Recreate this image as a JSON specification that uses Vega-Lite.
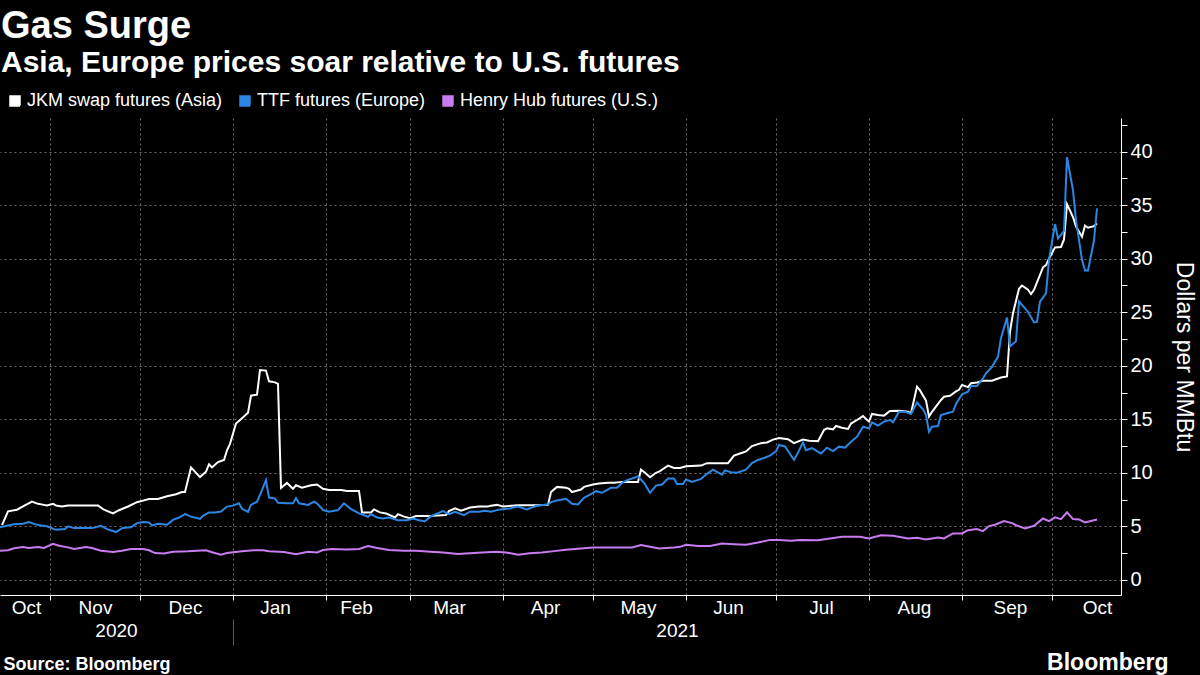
{
  "$schema": "https://vega.github.io/schema/vega-lite/v6.json",
  "width": 1121,
  "height": 477,
  "autosize": {"type": "none"},
  "padding": {"left": 0, "top": 118, "right": 79, "bottom": 80},
  "background": "#000000",
  "title": {
    "text": "Gas Surge",
    "subtitle": "Asia, Europe prices soar relative to U.S. futures",
    "anchor": "start",
    "frame": "group",
    "orient": "top",
    "font": "Liberation Sans",
    "fontSize": 38,
    "fontWeight": "bold",
    "color": "#ffffff",
    "subtitleFont": "Liberation Sans",
    "subtitleFontSize": 30,
    "subtitleFontWeight": "bold",
    "subtitleColor": "#ffffff",
    "subtitlePadding": 2,
    "offset": 14,
    "dx": 1
  },
  "config": {
    "view": {"stroke": null},
    "font": "Liberation Sans",
    "axis": {"labelFont": "Liberation Sans", "titleFont": "Liberation Sans"},
    "legend": {"labelFont": "Liberation Sans"}
  },
  "resolve": {"axis": {"x": "independent"}},
  "layer": [
    {
      "data": {"values": [
        {"date": "2020-10-16", "series": "JKM swap futures (Asia)", "value": 5.1},
        {"date": "2020-10-18", "series": "JKM swap futures (Asia)", "value": 6.4},
        {"date": "2020-10-21", "series": "JKM swap futures (Asia)", "value": 6.55},
        {"date": "2020-10-23", "series": "JKM swap futures (Asia)", "value": 6.85},
        {"date": "2020-10-26", "series": "JKM swap futures (Asia)", "value": 7.3},
        {"date": "2020-10-28", "series": "JKM swap futures (Asia)", "value": 7.1},
        {"date": "2020-10-30", "series": "JKM swap futures (Asia)", "value": 7.0},
        {"date": "2020-10-31", "series": "JKM swap futures (Asia)", "value": 6.95},
        {"date": "2020-11-02", "series": "JKM swap futures (Asia)", "value": 7.1},
        {"date": "2020-11-03", "series": "JKM swap futures (Asia)", "value": 6.95},
        {"date": "2020-11-05", "series": "JKM swap futures (Asia)", "value": 6.85},
        {"date": "2020-11-07", "series": "JKM swap futures (Asia)", "value": 6.95},
        {"date": "2020-11-17", "series": "JKM swap futures (Asia)", "value": 6.95},
        {"date": "2020-11-19", "series": "JKM swap futures (Asia)", "value": 6.55},
        {"date": "2020-11-22", "series": "JKM swap futures (Asia)", "value": 6.2},
        {"date": "2020-11-24", "series": "JKM swap futures (Asia)", "value": 6.5},
        {"date": "2020-11-27", "series": "JKM swap futures (Asia)", "value": 6.85},
        {"date": "2020-11-30", "series": "JKM swap futures (Asia)", "value": 7.25},
        {"date": "2020-12-02", "series": "JKM swap futures (Asia)", "value": 7.4},
        {"date": "2020-12-04", "series": "JKM swap futures (Asia)", "value": 7.55},
        {"date": "2020-12-07", "series": "JKM swap futures (Asia)", "value": 7.55},
        {"date": "2020-12-10", "series": "JKM swap futures (Asia)", "value": 7.8},
        {"date": "2020-12-13", "series": "JKM swap futures (Asia)", "value": 8.0},
        {"date": "2020-12-15", "series": "JKM swap futures (Asia)", "value": 8.2},
        {"date": "2020-12-16", "series": "JKM swap futures (Asia)", "value": 8.2},
        {"date": "2020-12-18", "series": "JKM swap futures (Asia)", "value": 10.5},
        {"date": "2020-12-21", "series": "JKM swap futures (Asia)", "value": 9.6},
        {"date": "2020-12-23", "series": "JKM swap futures (Asia)", "value": 10.1},
        {"date": "2020-12-24", "series": "JKM swap futures (Asia)", "value": 10.8},
        {"date": "2020-12-25", "series": "JKM swap futures (Asia)", "value": 10.5},
        {"date": "2020-12-27", "series": "JKM swap futures (Asia)", "value": 11.0},
        {"date": "2020-12-29", "series": "JKM swap futures (Asia)", "value": 11.2},
        {"date": "2020-12-30", "series": "JKM swap futures (Asia)", "value": 12.1},
        {"date": "2020-12-31", "series": "JKM swap futures (Asia)", "value": 12.7},
        {"date": "2021-01-02", "series": "JKM swap futures (Asia)", "value": 14.6},
        {"date": "2021-01-04", "series": "JKM swap futures (Asia)", "value": 15.1},
        {"date": "2021-01-06", "series": "JKM swap futures (Asia)", "value": 15.6},
        {"date": "2021-01-07", "series": "JKM swap futures (Asia)", "value": 17.2},
        {"date": "2021-01-09", "series": "JKM swap futures (Asia)", "value": 17.3},
        {"date": "2021-01-10", "series": "JKM swap futures (Asia)", "value": 19.6},
        {"date": "2021-01-12", "series": "JKM swap futures (Asia)", "value": 19.55},
        {"date": "2021-01-13", "series": "JKM swap futures (Asia)", "value": 18.55},
        {"date": "2021-01-15", "series": "JKM swap futures (Asia)", "value": 18.45},
        {"date": "2021-01-16", "series": "JKM swap futures (Asia)", "value": 18.3},
        {"date": "2021-01-17", "series": "JKM swap futures (Asia)", "value": 8.58},
        {"date": "2021-01-19", "series": "JKM swap futures (Asia)", "value": 9.05},
        {"date": "2021-01-21", "series": "JKM swap futures (Asia)", "value": 8.5},
        {"date": "2021-01-22", "series": "JKM swap futures (Asia)", "value": 8.83},
        {"date": "2021-01-24", "series": "JKM swap futures (Asia)", "value": 8.6},
        {"date": "2021-01-27", "series": "JKM swap futures (Asia)", "value": 8.83},
        {"date": "2021-01-29", "series": "JKM swap futures (Asia)", "value": 8.9},
        {"date": "2021-01-31", "series": "JKM swap futures (Asia)", "value": 8.5},
        {"date": "2021-02-02", "series": "JKM swap futures (Asia)", "value": 8.4},
        {"date": "2021-02-06", "series": "JKM swap futures (Asia)", "value": 8.4},
        {"date": "2021-02-08", "series": "JKM swap futures (Asia)", "value": 8.3},
        {"date": "2021-02-12", "series": "JKM swap futures (Asia)", "value": 8.3},
        {"date": "2021-02-13", "series": "JKM swap futures (Asia)", "value": 6.3},
        {"date": "2021-02-16", "series": "JKM swap futures (Asia)", "value": 6.3},
        {"date": "2021-02-17", "series": "JKM swap futures (Asia)", "value": 6.58},
        {"date": "2021-02-19", "series": "JKM swap futures (Asia)", "value": 6.3},
        {"date": "2021-02-21", "series": "JKM swap futures (Asia)", "value": 6.2},
        {"date": "2021-02-24", "series": "JKM swap futures (Asia)", "value": 5.82},
        {"date": "2021-02-25", "series": "JKM swap futures (Asia)", "value": 6.14},
        {"date": "2021-02-27", "series": "JKM swap futures (Asia)", "value": 5.9},
        {"date": "2021-03-01", "series": "JKM swap futures (Asia)", "value": 5.76},
        {"date": "2021-03-03", "series": "JKM swap futures (Asia)", "value": 5.95},
        {"date": "2021-03-07", "series": "JKM swap futures (Asia)", "value": 5.95},
        {"date": "2021-03-13", "series": "JKM swap futures (Asia)", "value": 6.05},
        {"date": "2021-03-14", "series": "JKM swap futures (Asia)", "value": 6.42},
        {"date": "2021-03-16", "series": "JKM swap futures (Asia)", "value": 6.68},
        {"date": "2021-03-18", "series": "JKM swap futures (Asia)", "value": 6.45},
        {"date": "2021-03-21", "series": "JKM swap futures (Asia)", "value": 6.75},
        {"date": "2021-03-24", "series": "JKM swap futures (Asia)", "value": 6.85},
        {"date": "2021-03-27", "series": "JKM swap futures (Asia)", "value": 6.85},
        {"date": "2021-03-28", "series": "JKM swap futures (Asia)", "value": 6.93},
        {"date": "2021-03-30", "series": "JKM swap futures (Asia)", "value": 7.0},
        {"date": "2021-04-01", "series": "JKM swap futures (Asia)", "value": 6.85},
        {"date": "2021-04-06", "series": "JKM swap futures (Asia)", "value": 6.96},
        {"date": "2021-04-12", "series": "JKM swap futures (Asia)", "value": 6.96},
        {"date": "2021-04-16", "series": "JKM swap futures (Asia)", "value": 7.0},
        {"date": "2021-04-17", "series": "JKM swap futures (Asia)", "value": 8.2},
        {"date": "2021-04-19", "series": "JKM swap futures (Asia)", "value": 8.68},
        {"date": "2021-04-22", "series": "JKM swap futures (Asia)", "value": 8.6},
        {"date": "2021-04-23", "series": "JKM swap futures (Asia)", "value": 8.5},
        {"date": "2021-04-24", "series": "JKM swap futures (Asia)", "value": 8.2},
        {"date": "2021-04-27", "series": "JKM swap futures (Asia)", "value": 8.44},
        {"date": "2021-04-28", "series": "JKM swap futures (Asia)", "value": 8.68},
        {"date": "2021-05-01", "series": "JKM swap futures (Asia)", "value": 8.9},
        {"date": "2021-05-03", "series": "JKM swap futures (Asia)", "value": 9.0},
        {"date": "2021-05-06", "series": "JKM swap futures (Asia)", "value": 9.06},
        {"date": "2021-05-08", "series": "JKM swap futures (Asia)", "value": 9.06},
        {"date": "2021-05-11", "series": "JKM swap futures (Asia)", "value": 9.15},
        {"date": "2021-05-16", "series": "JKM swap futures (Asia)", "value": 9.15},
        {"date": "2021-05-17", "series": "JKM swap futures (Asia)", "value": 10.3},
        {"date": "2021-05-19", "series": "JKM swap futures (Asia)", "value": 9.83},
        {"date": "2021-05-20", "series": "JKM swap futures (Asia)", "value": 9.58},
        {"date": "2021-05-22", "series": "JKM swap futures (Asia)", "value": 10.0},
        {"date": "2021-05-23", "series": "JKM swap futures (Asia)", "value": 10.1},
        {"date": "2021-05-26", "series": "JKM swap futures (Asia)", "value": 10.67},
        {"date": "2021-05-28", "series": "JKM swap futures (Asia)", "value": 10.45},
        {"date": "2021-05-30", "series": "JKM swap futures (Asia)", "value": 10.45},
        {"date": "2021-06-01", "series": "JKM swap futures (Asia)", "value": 10.6},
        {"date": "2021-06-06", "series": "JKM swap futures (Asia)", "value": 10.67},
        {"date": "2021-06-08", "series": "JKM swap futures (Asia)", "value": 10.9},
        {"date": "2021-06-15", "series": "JKM swap futures (Asia)", "value": 10.9},
        {"date": "2021-06-17", "series": "JKM swap futures (Asia)", "value": 11.6},
        {"date": "2021-06-19", "series": "JKM swap futures (Asia)", "value": 11.8},
        {"date": "2021-06-21", "series": "JKM swap futures (Asia)", "value": 12.0},
        {"date": "2021-06-23", "series": "JKM swap futures (Asia)", "value": 12.5},
        {"date": "2021-06-26", "series": "JKM swap futures (Asia)", "value": 12.77},
        {"date": "2021-06-28", "series": "JKM swap futures (Asia)", "value": 12.83},
        {"date": "2021-06-30", "series": "JKM swap futures (Asia)", "value": 13.1},
        {"date": "2021-07-02", "series": "JKM swap futures (Asia)", "value": 13.24},
        {"date": "2021-07-05", "series": "JKM swap futures (Asia)", "value": 13.14},
        {"date": "2021-07-07", "series": "JKM swap futures (Asia)", "value": 12.77},
        {"date": "2021-07-10", "series": "JKM swap futures (Asia)", "value": 13.1},
        {"date": "2021-07-12", "series": "JKM swap futures (Asia)", "value": 13.0},
        {"date": "2021-07-15", "series": "JKM swap futures (Asia)", "value": 12.96},
        {"date": "2021-07-17", "series": "JKM swap futures (Asia)", "value": 14.0},
        {"date": "2021-07-18", "series": "JKM swap futures (Asia)", "value": 14.15},
        {"date": "2021-07-20", "series": "JKM swap futures (Asia)", "value": 14.06},
        {"date": "2021-07-21", "series": "JKM swap futures (Asia)", "value": 14.37},
        {"date": "2021-07-23", "series": "JKM swap futures (Asia)", "value": 14.2},
        {"date": "2021-07-25", "series": "JKM swap futures (Asia)", "value": 14.1},
        {"date": "2021-07-26", "series": "JKM swap futures (Asia)", "value": 14.6},
        {"date": "2021-07-28", "series": "JKM swap futures (Asia)", "value": 14.93},
        {"date": "2021-07-30", "series": "JKM swap futures (Asia)", "value": 15.3},
        {"date": "2021-08-01", "series": "JKM swap futures (Asia)", "value": 14.78},
        {"date": "2021-08-02", "series": "JKM swap futures (Asia)", "value": 15.5},
        {"date": "2021-08-04", "series": "JKM swap futures (Asia)", "value": 15.4},
        {"date": "2021-08-06", "series": "JKM swap futures (Asia)", "value": 15.34},
        {"date": "2021-08-08", "series": "JKM swap futures (Asia)", "value": 15.78},
        {"date": "2021-08-11", "series": "JKM swap futures (Asia)", "value": 15.8},
        {"date": "2021-08-14", "series": "JKM swap futures (Asia)", "value": 15.7},
        {"date": "2021-08-15", "series": "JKM swap futures (Asia)", "value": 15.56},
        {"date": "2021-08-17", "series": "JKM swap futures (Asia)", "value": 18.05},
        {"date": "2021-08-18", "series": "JKM swap futures (Asia)", "value": 17.7},
        {"date": "2021-08-20", "series": "JKM swap futures (Asia)", "value": 16.75},
        {"date": "2021-08-21", "series": "JKM swap futures (Asia)", "value": 15.25},
        {"date": "2021-08-22", "series": "JKM swap futures (Asia)", "value": 15.7},
        {"date": "2021-08-25", "series": "JKM swap futures (Asia)", "value": 16.8},
        {"date": "2021-08-26", "series": "JKM swap futures (Asia)", "value": 17.1},
        {"date": "2021-08-28", "series": "JKM swap futures (Asia)", "value": 17.2},
        {"date": "2021-08-30", "series": "JKM swap futures (Asia)", "value": 17.6},
        {"date": "2021-08-31", "series": "JKM swap futures (Asia)", "value": 17.75},
        {"date": "2021-09-01", "series": "JKM swap futures (Asia)", "value": 18.2},
        {"date": "2021-09-03", "series": "JKM swap futures (Asia)", "value": 18.0},
        {"date": "2021-09-04", "series": "JKM swap futures (Asia)", "value": 18.36},
        {"date": "2021-09-06", "series": "JKM swap futures (Asia)", "value": 18.43},
        {"date": "2021-09-08", "series": "JKM swap futures (Asia)", "value": 18.6},
        {"date": "2021-09-11", "series": "JKM swap futures (Asia)", "value": 18.6},
        {"date": "2021-09-14", "series": "JKM swap futures (Asia)", "value": 18.9},
        {"date": "2021-09-16", "series": "JKM swap futures (Asia)", "value": 19.0},
        {"date": "2021-09-17", "series": "JKM swap futures (Asia)", "value": 23.2},
        {"date": "2021-09-18", "series": "JKM swap futures (Asia)", "value": 24.9},
        {"date": "2021-09-20", "series": "JKM swap futures (Asia)", "value": 27.2},
        {"date": "2021-09-21", "series": "JKM swap futures (Asia)", "value": 27.5},
        {"date": "2021-09-23", "series": "JKM swap futures (Asia)", "value": 27.1},
        {"date": "2021-09-24", "series": "JKM swap futures (Asia)", "value": 26.7},
        {"date": "2021-09-25", "series": "JKM swap futures (Asia)", "value": 27.1},
        {"date": "2021-09-28", "series": "JKM swap futures (Asia)", "value": 29.2},
        {"date": "2021-09-29", "series": "JKM swap futures (Asia)", "value": 29.4},
        {"date": "2021-09-30", "series": "JKM swap futures (Asia)", "value": 30.0},
        {"date": "2021-10-02", "series": "JKM swap futures (Asia)", "value": 31.06},
        {"date": "2021-10-04", "series": "JKM swap futures (Asia)", "value": 31.1},
        {"date": "2021-10-05", "series": "JKM swap futures (Asia)", "value": 31.8},
        {"date": "2021-10-06", "series": "JKM swap futures (Asia)", "value": 35.1},
        {"date": "2021-10-08", "series": "JKM swap futures (Asia)", "value": 33.9},
        {"date": "2021-10-09", "series": "JKM swap futures (Asia)", "value": 33.0},
        {"date": "2021-10-11", "series": "JKM swap futures (Asia)", "value": 32.06},
        {"date": "2021-10-12", "series": "JKM swap futures (Asia)", "value": 33.1},
        {"date": "2021-10-13", "series": "JKM swap futures (Asia)", "value": 32.9},
        {"date": "2021-10-15", "series": "JKM swap futures (Asia)", "value": 33.05},
        {"date": "2021-10-16", "series": "JKM swap futures (Asia)", "value": 33.3},

        {"date": "2020-10-15", "series": "TTF futures (Europe)", "value": 4.9},
        {"date": "2020-10-18", "series": "TTF futures (Europe)", "value": 5.08},
        {"date": "2020-10-20", "series": "TTF futures (Europe)", "value": 5.2},
        {"date": "2020-10-23", "series": "TTF futures (Europe)", "value": 5.23},
        {"date": "2020-10-25", "series": "TTF futures (Europe)", "value": 5.39},
        {"date": "2020-10-27", "series": "TTF futures (Europe)", "value": 5.2},
        {"date": "2020-10-29", "series": "TTF futures (Europe)", "value": 5.08},
        {"date": "2020-10-31", "series": "TTF futures (Europe)", "value": 5.0},
        {"date": "2020-11-03", "series": "TTF futures (Europe)", "value": 4.67},
        {"date": "2020-11-06", "series": "TTF futures (Europe)", "value": 4.74},
        {"date": "2020-11-07", "series": "TTF futures (Europe)", "value": 5.0},
        {"date": "2020-11-09", "series": "TTF futures (Europe)", "value": 4.83},
        {"date": "2020-11-12", "series": "TTF futures (Europe)", "value": 4.83},
        {"date": "2020-11-15", "series": "TTF futures (Europe)", "value": 4.83},
        {"date": "2020-11-18", "series": "TTF futures (Europe)", "value": 5.05},
        {"date": "2020-11-20", "series": "TTF futures (Europe)", "value": 4.74},
        {"date": "2020-11-23", "series": "TTF futures (Europe)", "value": 4.46},
        {"date": "2020-11-25", "series": "TTF futures (Europe)", "value": 4.83},
        {"date": "2020-11-28", "series": "TTF futures (Europe)", "value": 4.9},
        {"date": "2020-11-30", "series": "TTF futures (Europe)", "value": 5.3},
        {"date": "2020-12-02", "series": "TTF futures (Europe)", "value": 5.39},
        {"date": "2020-12-04", "series": "TTF futures (Europe)", "value": 5.36},
        {"date": "2020-12-05", "series": "TTF futures (Europe)", "value": 5.08},
        {"date": "2020-12-07", "series": "TTF futures (Europe)", "value": 5.23},
        {"date": "2020-12-10", "series": "TTF futures (Europe)", "value": 5.14},
        {"date": "2020-12-12", "series": "TTF futures (Europe)", "value": 5.6},
        {"date": "2020-12-14", "series": "TTF futures (Europe)", "value": 5.82},
        {"date": "2020-12-16", "series": "TTF futures (Europe)", "value": 6.13},
        {"date": "2020-12-18", "series": "TTF futures (Europe)", "value": 5.9},
        {"date": "2020-12-21", "series": "TTF futures (Europe)", "value": 5.7},
        {"date": "2020-12-22", "series": "TTF futures (Europe)", "value": 5.98},
        {"date": "2020-12-24", "series": "TTF futures (Europe)", "value": 6.3},
        {"date": "2020-12-26", "series": "TTF futures (Europe)", "value": 6.3},
        {"date": "2020-12-28", "series": "TTF futures (Europe)", "value": 6.38},
        {"date": "2020-12-30", "series": "TTF futures (Europe)", "value": 6.84},
        {"date": "2021-01-01", "series": "TTF futures (Europe)", "value": 6.93},
        {"date": "2021-01-03", "series": "TTF futures (Europe)", "value": 7.15},
        {"date": "2021-01-04", "series": "TTF futures (Europe)", "value": 6.63},
        {"date": "2021-01-06", "series": "TTF futures (Europe)", "value": 6.35},
        {"date": "2021-01-07", "series": "TTF futures (Europe)", "value": 7.0},
        {"date": "2021-01-09", "series": "TTF futures (Europe)", "value": 7.3},
        {"date": "2021-01-10", "series": "TTF futures (Europe)", "value": 7.93},
        {"date": "2021-01-12", "series": "TTF futures (Europe)", "value": 9.32},
        {"date": "2021-01-13", "series": "TTF futures (Europe)", "value": 7.68},
        {"date": "2021-01-15", "series": "TTF futures (Europe)", "value": 7.6},
        {"date": "2021-01-16", "series": "TTF futures (Europe)", "value": 7.2},
        {"date": "2021-01-19", "series": "TTF futures (Europe)", "value": 7.15},
        {"date": "2021-01-21", "series": "TTF futures (Europe)", "value": 7.15},
        {"date": "2021-01-22", "series": "TTF futures (Europe)", "value": 7.63},
        {"date": "2021-01-23", "series": "TTF futures (Europe)", "value": 7.15},
        {"date": "2021-01-26", "series": "TTF futures (Europe)", "value": 7.0},
        {"date": "2021-01-28", "series": "TTF futures (Europe)", "value": 7.3},
        {"date": "2021-01-29", "series": "TTF futures (Europe)", "value": 7.15},
        {"date": "2021-01-31", "series": "TTF futures (Europe)", "value": 6.52},
        {"date": "2021-02-02", "series": "TTF futures (Europe)", "value": 6.36},
        {"date": "2021-02-05", "series": "TTF futures (Europe)", "value": 6.52},
        {"date": "2021-02-07", "series": "TTF futures (Europe)", "value": 7.15},
        {"date": "2021-02-09", "series": "TTF futures (Europe)", "value": 6.68},
        {"date": "2021-02-12", "series": "TTF futures (Europe)", "value": 6.2},
        {"date": "2021-02-15", "series": "TTF futures (Europe)", "value": 5.89},
        {"date": "2021-02-16", "series": "TTF futures (Europe)", "value": 6.14},
        {"date": "2021-02-18", "series": "TTF futures (Europe)", "value": 5.82},
        {"date": "2021-02-20", "series": "TTF futures (Europe)", "value": 5.73},
        {"date": "2021-02-22", "series": "TTF futures (Europe)", "value": 5.82},
        {"date": "2021-02-25", "series": "TTF futures (Europe)", "value": 5.57},
        {"date": "2021-02-28", "series": "TTF futures (Europe)", "value": 5.57},
        {"date": "2021-03-02", "series": "TTF futures (Europe)", "value": 5.73},
        {"date": "2021-03-04", "series": "TTF futures (Europe)", "value": 5.57},
        {"date": "2021-03-06", "series": "TTF futures (Europe)", "value": 5.47},
        {"date": "2021-03-08", "series": "TTF futures (Europe)", "value": 5.95},
        {"date": "2021-03-12", "series": "TTF futures (Europe)", "value": 6.42},
        {"date": "2021-03-14", "series": "TTF futures (Europe)", "value": 6.14},
        {"date": "2021-03-16", "series": "TTF futures (Europe)", "value": 6.36},
        {"date": "2021-03-19", "series": "TTF futures (Europe)", "value": 6.04},
        {"date": "2021-03-21", "series": "TTF futures (Europe)", "value": 6.36},
        {"date": "2021-03-24", "series": "TTF futures (Europe)", "value": 6.36},
        {"date": "2021-03-26", "series": "TTF futures (Europe)", "value": 6.46},
        {"date": "2021-03-28", "series": "TTF futures (Europe)", "value": 6.36},
        {"date": "2021-03-31", "series": "TTF futures (Europe)", "value": 6.58},
        {"date": "2021-04-03", "series": "TTF futures (Europe)", "value": 6.65},
        {"date": "2021-04-06", "series": "TTF futures (Europe)", "value": 6.84},
        {"date": "2021-04-09", "series": "TTF futures (Europe)", "value": 6.58},
        {"date": "2021-04-12", "series": "TTF futures (Europe)", "value": 6.9},
        {"date": "2021-04-16", "series": "TTF futures (Europe)", "value": 7.05},
        {"date": "2021-04-17", "series": "TTF futures (Europe)", "value": 7.26},
        {"date": "2021-04-19", "series": "TTF futures (Europe)", "value": 7.42},
        {"date": "2021-04-22", "series": "TTF futures (Europe)", "value": 7.57},
        {"date": "2021-04-24", "series": "TTF futures (Europe)", "value": 7.1},
        {"date": "2021-04-26", "series": "TTF futures (Europe)", "value": 7.04},
        {"date": "2021-04-28", "series": "TTF futures (Europe)", "value": 7.66},
        {"date": "2021-04-30", "series": "TTF futures (Europe)", "value": 7.97},
        {"date": "2021-05-02", "series": "TTF futures (Europe)", "value": 8.28},
        {"date": "2021-05-04", "series": "TTF futures (Europe)", "value": 8.13},
        {"date": "2021-05-07", "series": "TTF futures (Europe)", "value": 8.6},
        {"date": "2021-05-09", "series": "TTF futures (Europe)", "value": 8.6},
        {"date": "2021-05-11", "series": "TTF futures (Europe)", "value": 9.12},
        {"date": "2021-05-13", "series": "TTF futures (Europe)", "value": 9.37},
        {"date": "2021-05-14", "series": "TTF futures (Europe)", "value": 9.46},
        {"date": "2021-05-16", "series": "TTF futures (Europe)", "value": 9.67},
        {"date": "2021-05-18", "series": "TTF futures (Europe)", "value": 9.06},
        {"date": "2021-05-20", "series": "TTF futures (Europe)", "value": 8.13},
        {"date": "2021-05-22", "series": "TTF futures (Europe)", "value": 8.8},
        {"date": "2021-05-24", "series": "TTF futures (Europe)", "value": 8.9},
        {"date": "2021-05-26", "series": "TTF futures (Europe)", "value": 9.46},
        {"date": "2021-05-28", "series": "TTF futures (Europe)", "value": 9.46},
        {"date": "2021-05-29", "series": "TTF futures (Europe)", "value": 8.96},
        {"date": "2021-05-31", "series": "TTF futures (Europe)", "value": 8.96},
        {"date": "2021-06-01", "series": "TTF futures (Europe)", "value": 9.37},
        {"date": "2021-06-03", "series": "TTF futures (Europe)", "value": 9.15},
        {"date": "2021-06-06", "series": "TTF futures (Europe)", "value": 9.43},
        {"date": "2021-06-08", "series": "TTF futures (Europe)", "value": 9.9},
        {"date": "2021-06-10", "series": "TTF futures (Europe)", "value": 10.3},
        {"date": "2021-06-13", "series": "TTF futures (Europe)", "value": 9.83},
        {"date": "2021-06-14", "series": "TTF futures (Europe)", "value": 10.23},
        {"date": "2021-06-16", "series": "TTF futures (Europe)", "value": 10.05},
        {"date": "2021-06-18", "series": "TTF futures (Europe)", "value": 10.0},
        {"date": "2021-06-21", "series": "TTF futures (Europe)", "value": 10.3},
        {"date": "2021-06-23", "series": "TTF futures (Europe)", "value": 10.9},
        {"date": "2021-06-25", "series": "TTF futures (Europe)", "value": 11.2},
        {"date": "2021-06-27", "series": "TTF futures (Europe)", "value": 11.38},
        {"date": "2021-06-29", "series": "TTF futures (Europe)", "value": 11.6},
        {"date": "2021-07-01", "series": "TTF futures (Europe)", "value": 12.0},
        {"date": "2021-07-02", "series": "TTF futures (Europe)", "value": 12.6},
        {"date": "2021-07-04", "series": "TTF futures (Europe)", "value": 12.46},
        {"date": "2021-07-07", "series": "TTF futures (Europe)", "value": 11.2},
        {"date": "2021-07-08", "series": "TTF futures (Europe)", "value": 11.7},
        {"date": "2021-07-10", "series": "TTF futures (Europe)", "value": 12.83},
        {"date": "2021-07-11", "series": "TTF futures (Europe)", "value": 12.1},
        {"date": "2021-07-13", "series": "TTF futures (Europe)", "value": 12.3},
        {"date": "2021-07-16", "series": "TTF futures (Europe)", "value": 11.8},
        {"date": "2021-07-18", "series": "TTF futures (Europe)", "value": 12.35},
        {"date": "2021-07-20", "series": "TTF futures (Europe)", "value": 12.03},
        {"date": "2021-07-22", "series": "TTF futures (Europe)", "value": 12.44},
        {"date": "2021-07-24", "series": "TTF futures (Europe)", "value": 12.35},
        {"date": "2021-07-26", "series": "TTF futures (Europe)", "value": 12.9},
        {"date": "2021-07-28", "series": "TTF futures (Europe)", "value": 13.37},
        {"date": "2021-07-30", "series": "TTF futures (Europe)", "value": 14.3},
        {"date": "2021-08-01", "series": "TTF futures (Europe)", "value": 14.15},
        {"date": "2021-08-02", "series": "TTF futures (Europe)", "value": 14.7},
        {"date": "2021-08-04", "series": "TTF futures (Europe)", "value": 14.4},
        {"date": "2021-08-06", "series": "TTF futures (Europe)", "value": 14.78},
        {"date": "2021-08-08", "series": "TTF futures (Europe)", "value": 14.93},
        {"date": "2021-08-09", "series": "TTF futures (Europe)", "value": 14.72},
        {"date": "2021-08-11", "series": "TTF futures (Europe)", "value": 15.7},
        {"date": "2021-08-13", "series": "TTF futures (Europe)", "value": 15.7},
        {"date": "2021-08-15", "series": "TTF futures (Europe)", "value": 15.5},
        {"date": "2021-08-17", "series": "TTF futures (Europe)", "value": 16.56},
        {"date": "2021-08-19", "series": "TTF futures (Europe)", "value": 15.93},
        {"date": "2021-08-20", "series": "TTF futures (Europe)", "value": 15.4},
        {"date": "2021-08-21", "series": "TTF futures (Europe)", "value": 13.84},
        {"date": "2021-08-22", "series": "TTF futures (Europe)", "value": 14.3},
        {"date": "2021-08-24", "series": "TTF futures (Europe)", "value": 14.37},
        {"date": "2021-08-25", "series": "TTF futures (Europe)", "value": 15.4},
        {"date": "2021-08-27", "series": "TTF futures (Europe)", "value": 15.56},
        {"date": "2021-08-29", "series": "TTF futures (Europe)", "value": 15.7},
        {"date": "2021-08-30", "series": "TTF futures (Europe)", "value": 16.43},
        {"date": "2021-09-01", "series": "TTF futures (Europe)", "value": 17.33},
        {"date": "2021-09-03", "series": "TTF futures (Europe)", "value": 17.58},
        {"date": "2021-09-04", "series": "TTF futures (Europe)", "value": 18.1},
        {"date": "2021-09-06", "series": "TTF futures (Europe)", "value": 18.1},
        {"date": "2021-09-08", "series": "TTF futures (Europe)", "value": 18.83},
        {"date": "2021-09-09", "series": "TTF futures (Europe)", "value": 19.3},
        {"date": "2021-09-11", "series": "TTF futures (Europe)", "value": 19.9},
        {"date": "2021-09-13", "series": "TTF futures (Europe)", "value": 20.86},
        {"date": "2021-09-14", "series": "TTF futures (Europe)", "value": 22.6},
        {"date": "2021-09-16", "series": "TTF futures (Europe)", "value": 24.5},
        {"date": "2021-09-17", "series": "TTF futures (Europe)", "value": 21.8},
        {"date": "2021-09-19", "series": "TTF futures (Europe)", "value": 22.3},
        {"date": "2021-09-20", "series": "TTF futures (Europe)", "value": 26.0},
        {"date": "2021-09-23", "series": "TTF futures (Europe)", "value": 25.05},
        {"date": "2021-09-25", "series": "TTF futures (Europe)", "value": 24.05},
        {"date": "2021-09-26", "series": "TTF futures (Europe)", "value": 24.1},
        {"date": "2021-09-27", "series": "TTF futures (Europe)", "value": 26.0},
        {"date": "2021-09-29", "series": "TTF futures (Europe)", "value": 26.76},
        {"date": "2021-09-30", "series": "TTF futures (Europe)", "value": 29.9},
        {"date": "2021-10-02", "series": "TTF futures (Europe)", "value": 33.24},
        {"date": "2021-10-03", "series": "TTF futures (Europe)", "value": 31.9},
        {"date": "2021-10-05", "series": "TTF futures (Europe)", "value": 32.6},
        {"date": "2021-10-06", "series": "TTF futures (Europe)", "value": 39.5},
        {"date": "2021-10-08", "series": "TTF futures (Europe)", "value": 36.4},
        {"date": "2021-10-09", "series": "TTF futures (Europe)", "value": 33.6},
        {"date": "2021-10-11", "series": "TTF futures (Europe)", "value": 29.9},
        {"date": "2021-10-12", "series": "TTF futures (Europe)", "value": 28.9},
        {"date": "2021-10-13", "series": "TTF futures (Europe)", "value": 28.9},
        {"date": "2021-10-15", "series": "TTF futures (Europe)", "value": 31.7},
        {"date": "2021-10-16", "series": "TTF futures (Europe)", "value": 34.7},

        {"date": "2020-10-15", "series": "Henry Hub futures (U.S.)", "value": 2.72},
        {"date": "2020-10-18", "series": "Henry Hub futures (U.S.)", "value": 2.76},
        {"date": "2020-10-20", "series": "Henry Hub futures (U.S.)", "value": 2.94},
        {"date": "2020-10-23", "series": "Henry Hub futures (U.S.)", "value": 3.07},
        {"date": "2020-10-25", "series": "Henry Hub futures (U.S.)", "value": 2.97},
        {"date": "2020-10-28", "series": "Henry Hub futures (U.S.)", "value": 3.07},
        {"date": "2020-10-30", "series": "Henry Hub futures (U.S.)", "value": 2.97},
        {"date": "2020-11-02", "series": "Henry Hub futures (U.S.)", "value": 3.37},
        {"date": "2020-11-04", "series": "Henry Hub futures (U.S.)", "value": 3.19},
        {"date": "2020-11-07", "series": "Henry Hub futures (U.S.)", "value": 3.03},
        {"date": "2020-11-09", "series": "Henry Hub futures (U.S.)", "value": 2.88},
        {"date": "2020-11-13", "series": "Henry Hub futures (U.S.)", "value": 3.07},
        {"date": "2020-11-15", "series": "Henry Hub futures (U.S.)", "value": 2.97},
        {"date": "2020-11-18", "series": "Henry Hub futures (U.S.)", "value": 2.72},
        {"date": "2020-11-22", "series": "Henry Hub futures (U.S.)", "value": 2.6},
        {"date": "2020-11-25", "series": "Henry Hub futures (U.S.)", "value": 2.72},
        {"date": "2020-11-28", "series": "Henry Hub futures (U.S.)", "value": 2.88},
        {"date": "2020-12-02", "series": "Henry Hub futures (U.S.)", "value": 2.88},
        {"date": "2020-12-04", "series": "Henry Hub futures (U.S.)", "value": 2.76},
        {"date": "2020-12-06", "series": "Henry Hub futures (U.S.)", "value": 2.5},
        {"date": "2020-12-09", "series": "Henry Hub futures (U.S.)", "value": 2.45},
        {"date": "2020-12-12", "series": "Henry Hub futures (U.S.)", "value": 2.63},
        {"date": "2020-12-17", "series": "Henry Hub futures (U.S.)", "value": 2.66},
        {"date": "2020-12-23", "series": "Henry Hub futures (U.S.)", "value": 2.76},
        {"date": "2020-12-25", "series": "Henry Hub futures (U.S.)", "value": 2.57},
        {"date": "2020-12-28", "series": "Henry Hub futures (U.S.)", "value": 2.35},
        {"date": "2020-12-30", "series": "Henry Hub futures (U.S.)", "value": 2.5},
        {"date": "2021-01-01", "series": "Henry Hub futures (U.S.)", "value": 2.57},
        {"date": "2021-01-04", "series": "Henry Hub futures (U.S.)", "value": 2.66},
        {"date": "2021-01-08", "series": "Henry Hub futures (U.S.)", "value": 2.76},
        {"date": "2021-01-11", "series": "Henry Hub futures (U.S.)", "value": 2.76},
        {"date": "2021-01-13", "series": "Henry Hub futures (U.S.)", "value": 2.66},
        {"date": "2021-01-18", "series": "Henry Hub futures (U.S.)", "value": 2.6},
        {"date": "2021-01-22", "series": "Henry Hub futures (U.S.)", "value": 2.4},
        {"date": "2021-01-26", "series": "Henry Hub futures (U.S.)", "value": 2.63},
        {"date": "2021-01-29", "series": "Henry Hub futures (U.S.)", "value": 2.56},
        {"date": "2021-01-31", "series": "Henry Hub futures (U.S.)", "value": 2.78},
        {"date": "2021-02-03", "series": "Henry Hub futures (U.S.)", "value": 2.88},
        {"date": "2021-02-08", "series": "Henry Hub futures (U.S.)", "value": 2.82},
        {"date": "2021-02-12", "series": "Henry Hub futures (U.S.)", "value": 2.88},
        {"date": "2021-02-15", "series": "Henry Hub futures (U.S.)", "value": 3.16},
        {"date": "2021-02-18", "series": "Henry Hub futures (U.S.)", "value": 2.97},
        {"date": "2021-02-22", "series": "Henry Hub futures (U.S.)", "value": 2.78},
        {"date": "2021-02-27", "series": "Henry Hub futures (U.S.)", "value": 2.72},
        {"date": "2021-03-03", "series": "Henry Hub futures (U.S.)", "value": 2.72},
        {"date": "2021-03-08", "series": "Henry Hub futures (U.S.)", "value": 2.63},
        {"date": "2021-03-12", "series": "Henry Hub futures (U.S.)", "value": 2.56},
        {"date": "2021-03-17", "series": "Henry Hub futures (U.S.)", "value": 2.4},
        {"date": "2021-03-21", "series": "Henry Hub futures (U.S.)", "value": 2.47},
        {"date": "2021-03-25", "series": "Henry Hub futures (U.S.)", "value": 2.56},
        {"date": "2021-03-30", "series": "Henry Hub futures (U.S.)", "value": 2.63},
        {"date": "2021-04-02", "series": "Henry Hub futures (U.S.)", "value": 2.56},
        {"date": "2021-04-06", "series": "Henry Hub futures (U.S.)", "value": 2.34},
        {"date": "2021-04-10", "series": "Henry Hub futures (U.S.)", "value": 2.47},
        {"date": "2021-04-14", "series": "Henry Hub futures (U.S.)", "value": 2.56},
        {"date": "2021-04-18", "series": "Henry Hub futures (U.S.)", "value": 2.68},
        {"date": "2021-04-22", "series": "Henry Hub futures (U.S.)", "value": 2.8},
        {"date": "2021-04-27", "series": "Henry Hub futures (U.S.)", "value": 2.93},
        {"date": "2021-05-01", "series": "Henry Hub futures (U.S.)", "value": 3.02},
        {"date": "2021-05-08", "series": "Henry Hub futures (U.S.)", "value": 3.02},
        {"date": "2021-05-14", "series": "Henry Hub futures (U.S.)", "value": 3.02},
        {"date": "2021-05-17", "series": "Henry Hub futures (U.S.)", "value": 3.24},
        {"date": "2021-05-20", "series": "Henry Hub futures (U.S.)", "value": 3.08},
        {"date": "2021-05-23", "series": "Henry Hub futures (U.S.)", "value": 2.93},
        {"date": "2021-05-28", "series": "Henry Hub futures (U.S.)", "value": 3.02},
        {"date": "2021-05-30", "series": "Henry Hub futures (U.S.)", "value": 3.08},
        {"date": "2021-06-01", "series": "Henry Hub futures (U.S.)", "value": 3.27},
        {"date": "2021-06-05", "series": "Henry Hub futures (U.S.)", "value": 3.17},
        {"date": "2021-06-09", "series": "Henry Hub futures (U.S.)", "value": 3.17},
        {"date": "2021-06-13", "series": "Henry Hub futures (U.S.)", "value": 3.39},
        {"date": "2021-06-17", "series": "Henry Hub futures (U.S.)", "value": 3.33},
        {"date": "2021-06-21", "series": "Henry Hub futures (U.S.)", "value": 3.27},
        {"date": "2021-06-25", "series": "Henry Hub futures (U.S.)", "value": 3.48},
        {"date": "2021-06-29", "series": "Henry Hub futures (U.S.)", "value": 3.73},
        {"date": "2021-07-02", "series": "Henry Hub futures (U.S.)", "value": 3.73},
        {"date": "2021-07-06", "series": "Henry Hub futures (U.S.)", "value": 3.64},
        {"date": "2021-07-09", "series": "Henry Hub futures (U.S.)", "value": 3.73},
        {"date": "2021-07-15", "series": "Henry Hub futures (U.S.)", "value": 3.7},
        {"date": "2021-07-19", "series": "Henry Hub futures (U.S.)", "value": 3.85},
        {"date": "2021-07-23", "series": "Henry Hub futures (U.S.)", "value": 4.02},
        {"date": "2021-07-29", "series": "Henry Hub futures (U.S.)", "value": 4.02},
        {"date": "2021-08-01", "series": "Henry Hub futures (U.S.)", "value": 3.86},
        {"date": "2021-08-05", "series": "Henry Hub futures (U.S.)", "value": 4.17},
        {"date": "2021-08-09", "series": "Henry Hub futures (U.S.)", "value": 4.11},
        {"date": "2021-08-14", "series": "Henry Hub futures (U.S.)", "value": 3.86},
        {"date": "2021-08-17", "series": "Henry Hub futures (U.S.)", "value": 3.92},
        {"date": "2021-08-20", "series": "Henry Hub futures (U.S.)", "value": 3.77},
        {"date": "2021-08-24", "series": "Henry Hub futures (U.S.)", "value": 3.96},
        {"date": "2021-08-26", "series": "Henry Hub futures (U.S.)", "value": 3.86},
        {"date": "2021-08-29", "series": "Henry Hub futures (U.S.)", "value": 4.33},
        {"date": "2021-09-01", "series": "Henry Hub futures (U.S.)", "value": 4.33},
        {"date": "2021-09-03", "series": "Henry Hub futures (U.S.)", "value": 4.64},
        {"date": "2021-09-06", "series": "Henry Hub futures (U.S.)", "value": 4.74},
        {"date": "2021-09-08", "series": "Henry Hub futures (U.S.)", "value": 4.55},
        {"date": "2021-09-10", "series": "Henry Hub futures (U.S.)", "value": 5.02},
        {"date": "2021-09-12", "series": "Henry Hub futures (U.S.)", "value": 5.15},
        {"date": "2021-09-15", "series": "Henry Hub futures (U.S.)", "value": 5.48},
        {"date": "2021-09-18", "series": "Henry Hub futures (U.S.)", "value": 5.27},
        {"date": "2021-09-19", "series": "Henry Hub futures (U.S.)", "value": 5.1},
        {"date": "2021-09-22", "series": "Henry Hub futures (U.S.)", "value": 4.8},
        {"date": "2021-09-25", "series": "Henry Hub futures (U.S.)", "value": 5.05},
        {"date": "2021-09-28", "series": "Henry Hub futures (U.S.)", "value": 5.73},
        {"date": "2021-09-30", "series": "Henry Hub futures (U.S.)", "value": 5.48},
        {"date": "2021-10-02", "series": "Henry Hub futures (U.S.)", "value": 5.83},
        {"date": "2021-10-04", "series": "Henry Hub futures (U.S.)", "value": 5.67},
        {"date": "2021-10-06", "series": "Henry Hub futures (U.S.)", "value": 6.3},
        {"date": "2021-10-08", "series": "Henry Hub futures (U.S.)", "value": 5.67},
        {"date": "2021-10-10", "series": "Henry Hub futures (U.S.)", "value": 5.64},
        {"date": "2021-10-12", "series": "Henry Hub futures (U.S.)", "value": 5.36},
        {"date": "2021-10-16", "series": "Henry Hub futures (U.S.)", "value": 5.64}
      ]},
      "mark": {"type": "line", "interpolate": "linear", "clip": true},
      "encoding": {
        "x": {
          "field": "date",
          "type": "temporal",
          "scale": {"type": "utc", "domain": [{"year": 2020, "month": 10, "date": 15, "hours": 8, "utc": true}, {"year": 2021, "month": 10, "date": 24, "utc": true}]},
          "axis": {
            "orient": "bottom",
            "title": null,
            "values": [
              {"year": 2020, "month": 11, "date": 1, "utc": true},
              {"year": 2020, "month": 12, "date": 1, "utc": true},
              {"year": 2021, "month": 1, "date": 1, "utc": true},
              {"year": 2021, "month": 2, "date": 1, "utc": true},
              {"year": 2021, "month": 3, "date": 1, "utc": true},
              {"year": 2021, "month": 4, "date": 1, "utc": true},
              {"year": 2021, "month": 5, "date": 1, "utc": true},
              {"year": 2021, "month": 6, "date": 1, "utc": true},
              {"year": 2021, "month": 7, "date": 1, "utc": true},
              {"year": 2021, "month": 8, "date": 1, "utc": true},
              {"year": 2021, "month": 9, "date": 1, "utc": true},
              {"year": 2021, "month": 10, "date": 1, "utc": true}
            ],
            "labels": false,
            "grid": true,
            "gridColor": "#6e6e6e",
            "gridDash": [2, 3],
            "gridWidth": 1,
            "domain": true,
            "domainColor": "#ffffff",
            "domainWidth": 1,
            "ticks": true,
            "tickColor": "#ffffff",
            "tickSize": 5
          }
        },
        "y": {
          "field": "value",
          "type": "quantitative",
          "scale": {"domain": [-1.42, 43.15], "nice": false, "zero": false},
          "axis": {
            "orient": "right",
            "values": [0, 2.5, 5, 7.5, 10, 12.5, 15, 17.5, 20, 22.5, 25, 27.5, 30, 32.5, 35, 37.5, 40, 42.5],
            "labelExpr": "datum.value % 5 === 0 ? datum.label : ''",
            "grid": true,
            "gridColor": "#6e6e6e",
            "gridDash": [2, 3],
            "gridWidth": 1,
            "gridOpacity": {"condition": {"test": "datum.value % 5 === 0", "value": 1}, "value": 0},
            "domainColor": "#ffffff",
            "tickColor": "#ffffff",
            "tickSize": 6,
            "labelColor": "#ffffff",
            "labelFontSize": 20,
            "labelPadding": 3,
            "labelOverlap": false,
            "title": "Dollars per MMBtu",
            "titleColor": "#ffffff",
            "titleFontSize": 23,
            "titleFontWeight": "normal",
            "titleAngle": 90,
            "titlePadding": 19
          }
        },
        "color": {
          "field": "series",
          "type": "nominal",
          "sort": ["JKM swap futures (Asia)", "TTF futures (Europe)", "Henry Hub futures (U.S.)"],
          "scale": {
            "domain": ["JKM swap futures (Asia)", "TTF futures (Europe)", "Henry Hub futures (U.S.)"],
            "range": ["#ffffff", "#2b87e3", "#c97cf0"]
          },
          "legend": {
            "orient": "none",
            "legendX": 6,
            "legendY": -26,
            "direction": "horizontal",
            "columns": 3,
            "title": null,
            "symbolType": "M-1,-1H1V-0.75H-1V-0.5H1V-0.25H-1V0H1V0.25H-1V0.5H1V0.75H-1V1H1H-1Z",
            "symbolSize": 100,
            "labelFontSize": 18,
            "labelColor": "#ffffff",
            "labelLimit": 400,
            "labelOffset": 3,
            "columnPadding": 13
          }
        }
      }
    },
    {
      "data": {"values": [{"date": "2021-01-01"}]},
      "mark": {"type": "text"},
      "encoding": {
        "x": {
          "field": "date",
          "type": "temporal",
          "scale": {"type": "utc", "domain": [{"year": 2020, "month": 10, "date": 15, "hours": 8, "utc": true}, {"year": 2021, "month": 10, "date": 24, "utc": true}]},
          "axis": {
            "orient": "bottom",
            "values": [
              {"year": 2020, "month": 10, "date": 24, "utc": true},
              {"year": 2020, "month": 11, "date": 16, "utc": true},
              {"year": 2020, "month": 12, "date": 16, "utc": true},
              {"year": 2021, "month": 1, "date": 15, "utc": true},
              {"year": 2021, "month": 2, "date": 11, "utc": true},
              {"year": 2021, "month": 3, "date": 14, "utc": true},
              {"year": 2021, "month": 4, "date": 15, "utc": true},
              {"year": 2021, "month": 5, "date": 16, "utc": true},
              {"year": 2021, "month": 6, "date": 15, "utc": true},
              {"year": 2021, "month": 7, "date": 16, "utc": true},
              {"year": 2021, "month": 8, "date": 16, "utc": true},
              {"year": 2021, "month": 9, "date": 17, "utc": true},
              {"year": 2021, "month": 10, "date": 16, "utc": true}
            ],
            "format": "%b",
            "domain": false,
            "ticks": false,
            "grid": false,
            "labelColor": "#ffffff",
            "labelFontSize": 19,
            "labelPadding": 3,
            "labelOverlap": false,
            "labelFlush": false,
            "title": "Bloomberg",
            "titleX": 1168,
            "titleY": 74,
            "titleAlign": "right",
            "titleBaseline": "alphabetic",
            "titleFontSize": 23,
            "titleFontWeight": "bold",
            "titleColor": "#ffffff"
          }
        },
        "text": {"value": ""}
      }
    },
    {
      "data": {"values": [{"date": "2021-01-01"}]},
      "mark": {"type": "text"},
      "encoding": {
        "x": {
          "field": "date",
          "type": "temporal",
          "scale": {"type": "utc", "domain": [{"year": 2020, "month": 10, "date": 15, "hours": 8, "utc": true}, {"year": 2021, "month": 10, "date": 24, "utc": true}]},
          "axis": {
            "orient": "bottom",
            "values": [
              {"year": 2020, "month": 11, "date": 23, "utc": true},
              {"year": 2021, "month": 1, "date": 1, "utc": true},
              {"year": 2021, "month": 5, "date": 29, "utc": true}
            ],
            "format": "%Y",
            "labelExpr": "utcdate(datum.value) === 1 ? '' : datum.label",
            "offset": 24,
            "domain": false,
            "grid": false,
            "ticks": true,
            "tickSize": 26,
            "tickColor": "#5a5a5a",
            "tickOpacity": {"condition": {"test": "utcdate(datum.value) === 1", "value": 1}, "value": 0},
            "labelPadding": -24,
            "labelColor": "#ffffff",
            "labelFontSize": 19,
            "labelOverlap": false,
            "labelFlush": false,
            "title": "Source: Bloomberg",
            "titleX": 3,
            "titleY": 50,
            "titleAlign": "left",
            "titleBaseline": "alphabetic",
            "titleFontSize": 18,
            "titleFontWeight": "bold",
            "titleColor": "#ffffff"
          }
        },
        "text": {"value": ""}
      }
    }
  ]
}
